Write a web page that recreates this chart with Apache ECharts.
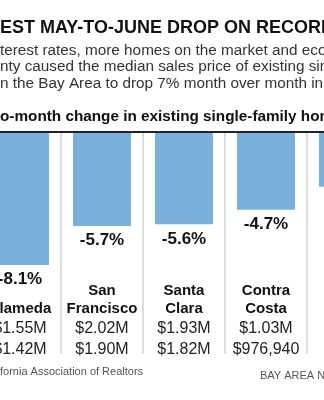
<!DOCTYPE html>
<html>
<head>
<meta charset="utf-8">
<script src="https://cdn.jsdelivr.net/npm/echarts@6/dist/echarts.min.js"></script>
<style>
html,body{margin:0;padding:0;background:#fff;}
#c{width:324px;height:400px;}
</style>
</head>
<body>
<div id="c"></div>
<script>
// ---- data ----
var counties = ['Alameda', 'San\nFrancisco', 'Santa\nClara', 'Contra\nCosta', ''];
var changePct = [-8.1, -5.7, -5.6, -4.7, -3.3];
var mayPrice = ['$1.55M', '$2.02M', '$1.93M', '$1.03M', ''];
var junePrice = ['$1.42M', '$1.90M', '$1.82M', '$976,940', ''];
var showLabel = [true, true, true, true, false];

var titleText = 'LARGEST MAY-TO-JUNE DROP ON RECORD';
var subLines = [
  'Higher interest rates, more homes on the market and economic',
  'uncertainty caused the median sales price of existing single-family homes',
  'in the Bay Area to drop 7% month over month in June.'
];
var headerText = 'Month-to-month change in existing single-family home prices';
var sourceText = 'Source: California Association of Realtors';
var creditText = 'BAY AREA NEWS GROUP';

// ---- helpers ----
var mctx = document.createElement('canvas').getContext('2d');
function w(font, s){ mctx.font = font; return mctx.measureText(s).width; }

var FT = 'bold 18px "Liberation Sans Narrow", "Liberation Sans", sans-serif';
var FS = '15.3px "Liberation Sans", sans-serif';
var FH = 'bold 15.3px "Liberation Sans", sans-serif';
var FF = '11px "Liberation Sans", sans-serif';

function txt(text, font, x, y, color){
  return {type:'text', x:x, y:y, silent:true,
    style:{text:text, font:font, fill:color, textVerticalAlign:'middle', textAlign:'left'}};
}

var graphics = [
  txt(titleText, FT, -w(FT,'LARG'), 28, '#111'),
  txt(subLines[0], FS, -w(FS,'Higher in'), 51, '#333'),
  txt(subLines[1], FS, -w(FS,'uncertai'), 67, '#333'),
  txt(subLines[2], FS, -w(FS,'i'), 84, '#333'),
  txt(headerText, FH, -w(FH,'Month-t'), 117, '#111'),
  {type:'line', silent:true, shape:{x1:0,y1:132,x2:324,y2:132}, style:{stroke:'#222', lineWidth:2}},
  txt(sourceText, FF, -w(FF,'Source: Cali'), 372, '#555'),
  txt(creditText, FF, 260, 376, '#555')
];

var chart = echarts.init(document.getElementById('c'), null, {renderer:'canvas'});
chart.setOption({
  animation:false,
  backgroundColor:'#fff',
  grid:{left:-21, width:410, top:133, height:221, outerBoundsMode:'none', containLabel:false},
  xAxis:{
    type:'category',
    data:counties.map(function(c,i){return i;}),
    axisLine:{show:false}, axisTick:{show:false},
    splitLine:{show:true, lineStyle:{color:'#dcdcdc', width:2}},
    axisLabel:{
      interval:0, margin:-72,
      formatter:function(v){
        var i = +v;
        var parts = counties[i].split('\n');
        if (parts.length === 1) parts.unshift(' ');
        return parts.map(function(p){return '{n|'+p+'}';}).join('\n') +
          '\n{p|'+(mayPrice[i]||' ')+'}\n{p|'+(junePrice[i]||' ')+'}';
      },
      rich:{
        n:{fontFamily:'Liberation Sans', fontWeight:'bold', fontSize:15, lineHeight:18, color:'#111'},
        p:{fontFamily:'Liberation Sans', fontSize:16, lineHeight:21, color:'#222'}
      }
    }
  },
  yAxis:{type:'value', min:-13.55, max:0, show:false, splitLine:{show:false}},
  series:[{
    type:'bar',
    barWidth:58,
    data:changePct.map(function(v,i){
      return {value:v, label:{show:showLabel[i]}};
    }),
    itemStyle:{color:'#7ab1dc'},
    label:{
      show:true, position:'bottom', distance:6,
      formatter:function(p){return p.value.toFixed(1)+'%';},
      fontFamily:'Liberation Sans', fontWeight:'bold', fontSize:17, color:'#111'
    }
  }],
  graphic:graphics
});
</script>
</body>
</html>
